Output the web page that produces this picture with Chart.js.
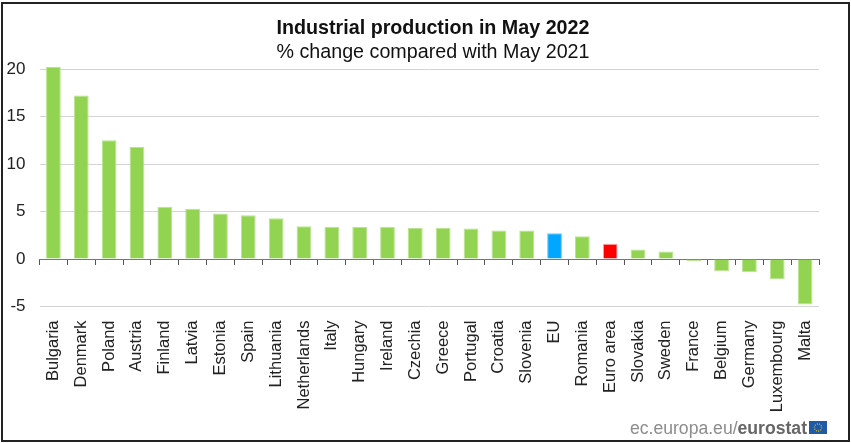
<!DOCTYPE html>
<html>
<head>
<meta charset="utf-8">
<script src="https://cdn.jsdelivr.net/npm/chart.js@4/dist/chart.umd.min.js"></script>
<style>
    body { margin: 0; background: #fff; font-family: "Liberation Sans", Arial, sans-serif; }
    #wrap { position: relative; width: 851px; height: 443px; overflow: hidden; }
    #frame { position: absolute; left: 1px; top: 2px; width: 845px; height: 436px; border: 2px solid #222; pointer-events: none; }
    #chart { position: absolute; left: 0; top: 0; }
    .title { position: absolute; left: 233px; width: 400px; text-align: center; color: #111; font-size: 19.7px; white-space: nowrap; }
    #source { position: absolute; right: 44px; top: 418px; color: #8c8c8c; font-size: 17.6px; white-space: nowrap; }
    #source b { color: #666; }
    #flag { position: absolute; left: 809px; top: 421px; }
</style>
</head>
<body>
<div id="wrap">
    <canvas id="chart" width="851" height="443"></canvas>
    <div class="title" style="top:16px;font-weight:bold">Industrial production in May 2022</div>
    <div class="title" style="top:40px">% change compared with May 2021</div>
    <div id="source">ec.europa.eu/<b>eurostat</b></div>
    <svg id="flag" width="18" height="13">
        <rect width="18" height="13" fill="#1f5aa6"></rect>
        <circle cx="9" cy="6.5" r="3.6" fill="none" stroke="#d8c23a" stroke-width="1.2" stroke-dasharray="1 1.2"></circle>
    </svg>
    <div id="frame"></div>
</div>
<script>
const countries = ['Bulgaria', 'Denmark', 'Poland', 'Austria', 'Finland', 'Latvia', 'Estonia', 'Spain', 'Lithuania',
    'Netherlands', 'Italy', 'Hungary', 'Ireland', 'Czechia', 'Greece', 'Portugal', 'Croatia', 'Slovenia', 'EU',
    'Romania', 'Euro area', 'Slovakia', 'Sweden', 'France', 'Belgium', 'Germany', 'Luxembourg', 'Malta'];
const changes = [20.2, 17.2, 12.5, 11.8, 5.5, 5.3, 4.8, 4.6, 4.3,
    3.45, 3.4, 3.4, 3.4, 3.3, 3.3, 3.2, 3.0, 3.0, 2.7,
    2.4, 1.6, 1.0, 0.8, -0.2, -1.3, -1.4, -2.1, -4.8];
const yTicks = [-5, 0, 5, 10, 15, 20];

// Aggregates get their own colour
function barColor(name) {
    if (name === 'EU') return '#00a6ff';
    if (name === 'Euro area') return '#ff0000';
    return '#92d451';
}
function edgeColor(name) {
    if (name === 'EU') return '#66c8ff';
    if (name === 'Euro area') return '#ffb0b0';
    return '#b9e48f';
}

const labelFont = { family: '"Liberation Sans", Arial, sans-serif', size: 16.5 };

new Chart(document.getElementById('chart').getContext('2d'), {
    type: 'bar',
    data: {
        labels: countries,
        datasets: [
            {
                data: changes,
                backgroundColor: countries.map(barColor),
                borderColor: countries.map(edgeColor),
                borderWidth: 1,
                barPercentage: 0.53,
                categoryPercentage: 1,
                clip: false,
            },
        ],
    },
    options: {
        responsive: false,
        animation: false,
        layout: { padding: { top: 69, right: 32, bottom: 0, left: 0 } },
        plugins: {
            legend: { display: false },
            tooltip: { enabled: false },
        },
        scales: {
            x: {
                grid: { display: false },
                border: { display: false },
                ticks: {
                    autoSkip: false,
                    maxRotation: 90,
                    minRotation: 90,
                    padding: 6,
                    color: '#222',
                    font: labelFont,
                },
                afterFit: (scale) => { scale.height = 136.5; },
            },
            // Axis line with tick marks sitting on zero
            zero: {
                axis: 'x',
                type: 'category',
                labels: countries,
                position: { y: 0 },
                grid: {
                    offset: true,
                    drawOnChartArea: false,
                    tickLength: 5,
                    tickColor: '#555',
                },
                border: { color: '#777' },
                ticks: { display: false, autoSkip: false },
            },
            y: {
                min: -5,
                max: 20,
                afterBuildTicks: (scale) => { scale.ticks = yTicks.map((value) => ({ value })); },
                grid: {
                    color: (ctx) => (ctx.tick.value === 0 ? 'rgba(0,0,0,0)' : '#d4d4d4'),
                    drawTicks: false,
                },
                border: { display: false },
                ticks: {
                    padding: 14,
                    color: '#222',
                    font: { family: labelFont.family, size: 17 },
                },
                afterFit: (scale) => { scale.width = 39.5; },
            },
        },
    },
});
</script>
</body>
</html>
